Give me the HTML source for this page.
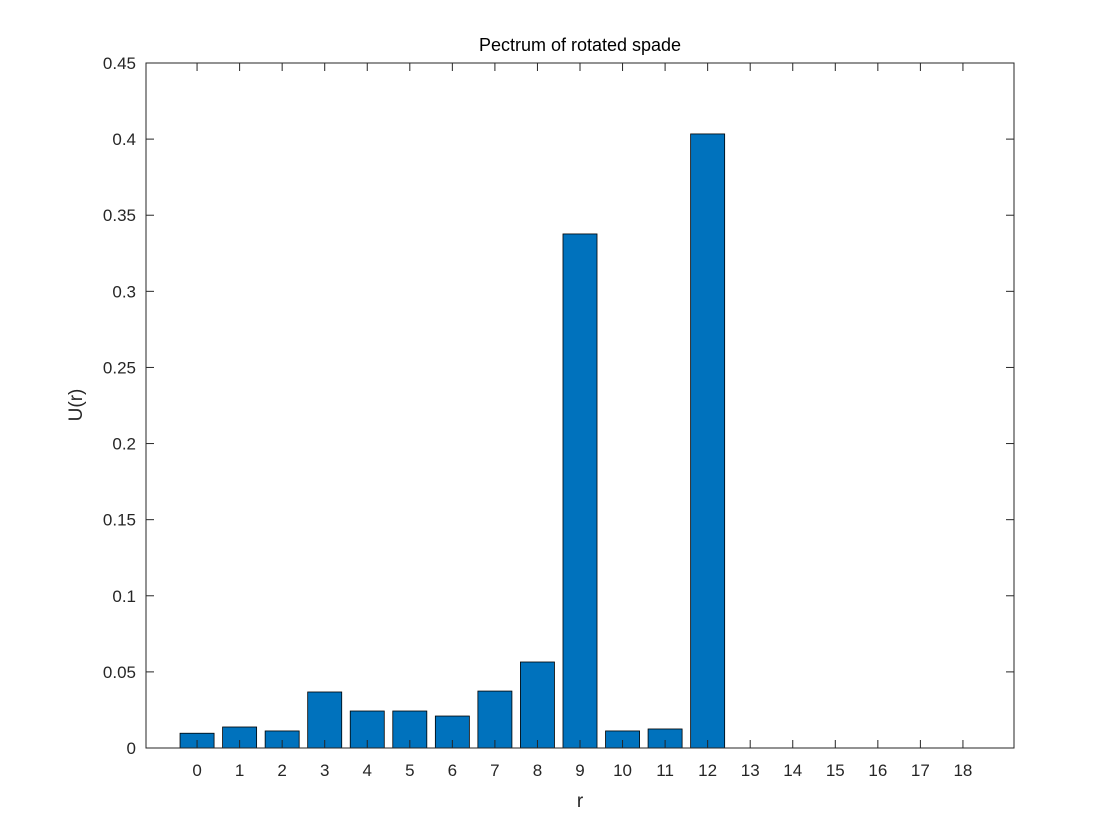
<!DOCTYPE html>
<html><head><meta charset="utf-8"><style>
body{margin:0;background:#fff;}
svg{display:block;font-family:"Liberation Sans",Arial,sans-serif;}
</style></head><body>
<svg id="chart" width="1120" height="840" viewBox="0 0 1120 840">
<rect width="1120" height="840" fill="#fff"/>
<text x="580" y="51" text-anchor="middle" font-size="18" fill="#000">Pectrum of rotated spade</text>
<text x="580" y="807" text-anchor="middle" font-size="19" fill="#262626">r</text>
<text transform="translate(82,405) rotate(-90)" text-anchor="middle" font-size="19" fill="#262626">U(r)</text>
<g id="bars"></g>
<g id="axes"></g>
</svg>
<script>
const categories=[0,1,2,3,4,5,6,7,8,9,10,11,12,13,14,15,16,17,18];
const values=[0.0097,0.0138,0.0112,0.0368,0.0243,0.0243,0.021,0.0374,0.0565,0.3377,0.0112,0.0125,0.4034,0,0,0,0,0,0];
const yTicks=[0,0.05,0.1,0.15,0.2,0.25,0.3,0.35,0.4,0.45];
const yTickLabels=["0","0.05","0.1","0.15","0.2","0.25","0.3","0.35","0.4","0.45"];
const NS="http://www.w3.org/2000/svg";
const L=146,R=1014,T=63,B=748,xmin=-1.2,xmax=19.2,ymax=0.45;
const xs=v=>L+(v-xmin)/(xmax-xmin)*(R-L);
const ys=v=>B-v/ymax*(B-T);
function mk(tag,attrs,parent){const e=document.createElementNS(NS,tag);for(const k in attrs)e.setAttribute(k,attrs[k]);parent.appendChild(e);return e;}
const bars=document.getElementById('bars'),axes=document.getElementById('axes');
const bw=0.8;
categories.forEach((c,i)=>{
  const x0=xs(c-bw/2),x1=xs(c+bw/2),y=ys(values[i]);
  const r=mk('rect',{x:x0,y:y,width:x1-x0,height:B-y,fill:'#0072bd',stroke:'#000','stroke-width':0.8},bars);
  
  
  const t=mk('text',{x:xs(c),y:B+28,'text-anchor':'middle','font-size':17,fill:'#262626'},axes);
  t.textContent=String(c);
  
  
  mk('line',{x1:xs(c),x2:xs(c),y1:B,y2:B-8,stroke:'#262626','stroke-width':1},axes);
  mk('line',{x1:xs(c),x2:xs(c),y1:T,y2:T+8,stroke:'#262626','stroke-width':1},axes);
});
yTicks.forEach((v,i)=>{
  const y=ys(v);
  mk('line',{x1:L,x2:L+8,y1:y,y2:y,stroke:'#262626','stroke-width':1},axes);
  mk('line',{x1:R,x2:R-8,y1:y,y2:y,stroke:'#262626','stroke-width':1},axes);
  const t=mk('text',{x:L-10,y:y+6,'text-anchor':'end','font-size':17,fill:'#262626'},axes);
  t.textContent=yTickLabels[i];
  
  
});
const box=mk('rect',{x:L,y:T,width:R-L,height:B-T,fill:'none',stroke:'#262626','stroke-width':1},axes);


</script>
</body></html>
